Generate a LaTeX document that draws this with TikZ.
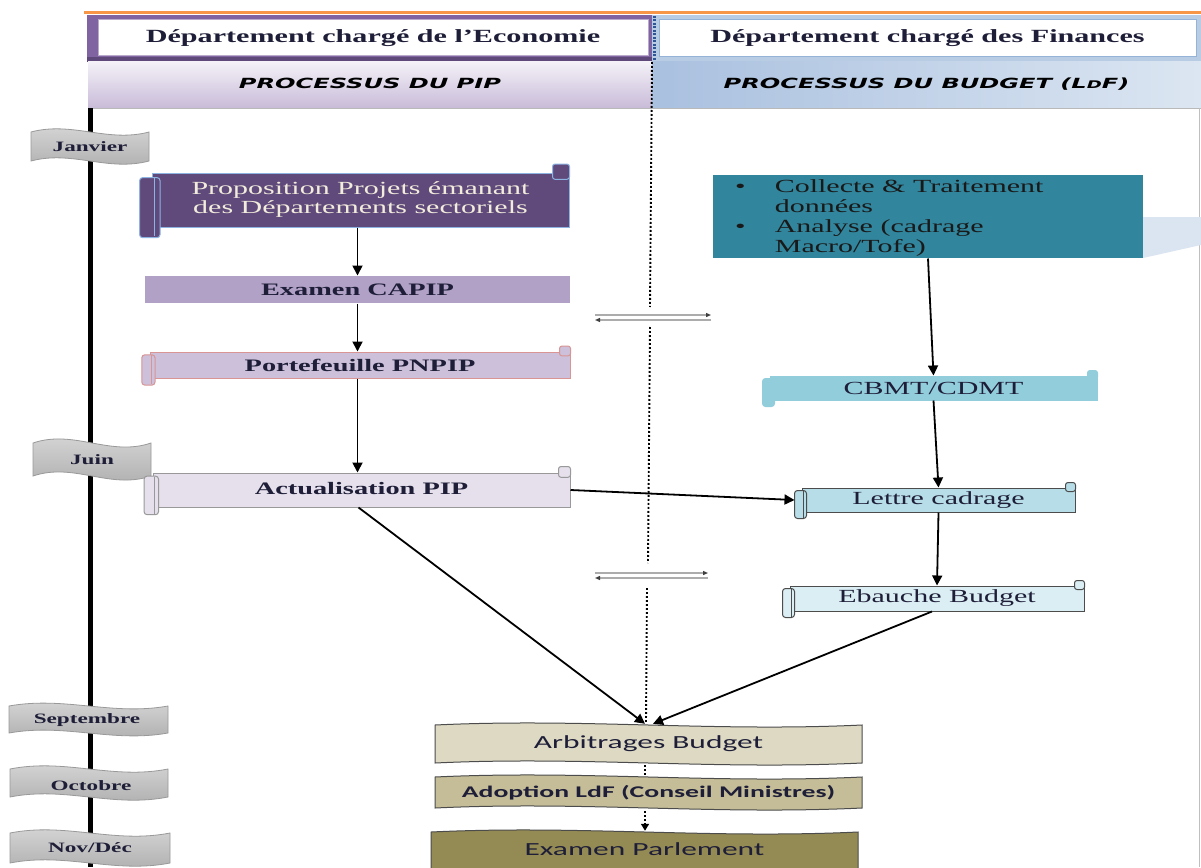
\documentclass[tikz,border=0pt]{standalone}
\usepackage{fontspec}
\setmainfont{Liberation Serif}
\newfontfamily\djsans{DejaVu Sans}
\newfontfamily\carl{Carlito}
\usepackage{graphicx}
\usetikzlibrary{arrows.meta,calc}
\definecolor{inkc}{HTML}{1E1E38}
\definecolor{orangec}{HTML}{F79646}
\definecolor{purf}{HTML}{8064A2}
\definecolor{purdk}{HTML}{5F497A}
\definecolor{lavtop}{HTML}{F4F1F8}
\definecolor{lavbot}{HTML}{C8BBD8}
\definecolor{bluef}{HTML}{B8CCE4}
\definecolor{blueb}{HTML}{95B3D7}
\definecolor{bluedk}{HTML}{2F5597}
\definecolor{subbl}{HTML}{A9C0DF}
\definecolor{subbr}{HTML}{DCE6F2}
\definecolor{pone}{HTML}{604A7B}
\definecolor{poneb}{HTML}{8DB3E2}
\definecolor{ptwo}{HTML}{B2A1C7}
\definecolor{pthree}{HTML}{CCC0DA}
\definecolor{pthreeb}{HTML}{D99594}
\definecolor{pfour}{HTML}{E5E0EC}
\definecolor{rone}{HTML}{31859C}
\definecolor{rpoly}{HTML}{DBE5F1}
\definecolor{rtwo}{HTML}{92CDDC}
\definecolor{rthree}{HTML}{B7DEE8}
\definecolor{rfour}{HTML}{DAEEF3}
\definecolor{bone}{HTML}{DDD9C3}
\definecolor{btwo}{HTML}{C4BD97}
\definecolor{bthree}{HTML}{948A54}
\definecolor{cream}{HTML}{F2ECDC}

\newcommand{\hx}[2][1.62]{\scalebox{#1}[1]{#2}}
\newcommand{\wavepath}[6]{%
  \path[#6] (#1,#2) .. controls ({#1+0.35*(#3-#1)},{#2-#5}) and ({#1+0.65*(#3-#1)},{#2+#5}) .. (#3,#2)
   -- (#3,#4) .. controls ({#1+0.65*(#3-#1)},{#4+#5}) and ({#1+0.35*(#3-#1)},{#4-#5}) .. (#1,#4) -- cycle;}
\newcommand{\scrolldeco}[4]{%
  \draw[draw=#3, fill=#2, rounded corners=3pt, line width=1pt] ($(#1.north west)+({-0.7*#4},{0.3*#4})$) rectangle ($(#1.south west)+({0.5*#4},{0.6*#4})$);
  \draw[draw=#3, line width=1pt] ($(#1.north west)+({0.15*#4},{0.35*#4})$) -- ($(#1.south west)+({0.15*#4},{0.5*#4})$);
  \draw[draw=#3, fill=#2, rounded corners=2.5pt, line width=1pt] ($(#1.north east)+({-1.0*#4},{-0.5*#4})$) rectangle ($(#1.north east)+(0,{0.4*#4})$);
}

\begin{document}
\begin{tikzpicture}[x=1pt,y=-1pt,
  body/.style={rectangle, inner sep=0pt, line width=1pt},
  bfx/.style={font=\fontsize{17.5}{20}\selectfont\bfseries, text=inkc},
  rgx/.style={font=\fontsize{18.5}{19.5}\selectfont, text=inkc},
  mon/.style={font=\fontsize{14.3}{16}\selectfont\bfseries, text=inkc, inner sep=0pt},
  calx/.style={font=\carl\fontsize{18.5}{20}\selectfont, text=inkc, inner sep=0pt},
  bann/.style={top color=gray!30, middle color=white, bottom color=gray!65, draw=gray!80, line width=0.8pt},
  arr/.style={draw=black, line width=1.8pt, -{Triangle[length=10pt,width=10pt]}},
  exch/.style={draw=gray!65, line width=1.2pt, -{Triangle[length=5pt,width=4pt,color=black!75]}},
  dotl/.style={draw=black, line width=1.9pt, dash pattern=on 1.8pt off 2.2pt}
]
\useasboundingbox (0,0) rectangle (1201,867);
\clip (0,0) rectangle (1201,867);
\fill[white] (0,0) rectangle (1201,867);

% ---------- header ----------
\fill[purf] (87,15) rectangle (652,62);
\fill[purdk] (87,57) rectangle (652,62);
\fill[bluef] (652,15) rectangle (1201,61);
\draw[draw=orangec, line width=3pt] (84,13) -- (1201,13);
\node[rectangle, fill=white, draw=purf!55, line width=1pt, minimum width=550pt, minimum height=36pt, inner sep=0pt,
      font=\fontsize{18.6}{20}\selectfont\bfseries, text=inkc] (hl) at (373,38) {\hx{Département chargé de l'Economie}};
\node[rectangle, fill=white, draw=blueb, line width=1pt, minimum width=537pt, minimum height=37pt, inner sep=0pt,
      font=\fontsize{18.6}{20}\selectfont\bfseries, text=inkc] (hr) at (927.5,38.5) {\hx{Département chargé des Finances}};
\draw[draw=bluedk, line width=3pt, dash pattern=on 2pt off 1.5pt] (654,16) -- (654,61);

\node[rectangle, top color=lavtop, bottom color=lavbot, minimum width=564pt, minimum height=46pt, inner sep=0pt,
      font=\djsans\fontsize{14}{16}\selectfont\bfseries\itshape, text=black] (sl) at (370,85) {\raisebox{4pt}{\hx[1.72]{PROCESSUS DU PIP}}};
\node[rectangle, left color=subbl, right color=subbr, minimum width=549pt, minimum height=46pt, inner sep=0pt,
      font=\djsans\fontsize{14}{16}\selectfont\bfseries\itshape, text=black] (sr) at (926.5,85) {\raisebox{4pt}{\hx[1.72]{PROCESSUS DU BUDGET (L{\fontsize{10.5}{12}\selectfont D}F)}}};
\draw[gray!55, line width=0.8pt] (88,108) -- (1201,108);

% ---------- timeline ----------
\draw[line width=5pt] (90.5,108) -- (90.5,867);
\draw[gray!50, line width=0.8pt] (1199,108) -- (1199,867);

\wavepath{31}{132}{149}{161}{11}{bann}
\node[mon] (jan) at (90,147) {\hx{Janvier}};
\wavepath{33}{443}{151}{476}{14}{bann}
\node[mon] (jun) at (92,460) {\hx{Juin}};
\wavepath{9}{706}{168}{733}{10}{bann}
\node[mon] (sep) at (87,720) {\hx{Septembre}};
\wavepath{10}{769}{168}{797}{11}{bann}
\node[mon] (oct) at (91,786) {\hx{Octobre}};
\wavepath{10}{833}{170}{863}{11}{bann}
\node[mon] (nov) at (90,848) {\hx{Nov/Déc}};

% ---------- dotted separator ----------
\draw[dotl] (652,62) -- (650,307);
\draw[dotl] (650,327) -- (648,563);
\draw[dotl] (647,588) -- (646,722);

% ---------- left column ----------
\node[body, fill=pone, draw=poneb, minimum width=417pt, minimum height=54pt,
      font=\fontsize{18.5}{19}\selectfont, text=cream] (p1) at (360.5,200)
      {\raisebox{9pt}{\hx{\begin{tabular}{@{}c@{}}Proposition Projets émanant\\des Départements sectoriels\end{tabular}}}};
\scrolldeco{p1}{pone}{poneb}{17}

\node[body, fill=ptwo, minimum width=425pt, minimum height=27pt, bfx] (p2) at (357.5,289.5) {\hx{Examen CAPIP}};

\node[body, fill=pthree, draw=pthreeb, minimum width=420pt, minimum height=26pt, bfx] (p3) at (360,365) {\hx{Portefeuille PNPIP}};
\scrolldeco{p3}{pthree}{pthreeb}{11}

\node[body, fill=pfour, draw=gray!80, minimum width=417pt, minimum height=34pt, bfx] (p4) at (361.5,490) {\raisebox{3pt}{\hx{Actualisation PIP}}};
\scrolldeco{p4}{pfour}{gray!80}{12}

% ---------- right column ----------
\fill[rpoly] (1143,217) -- (1201,217) -- (1201,245) -- (1143,258) -- cycle;
\node[body, fill=rone, minimum width=430pt, minimum height=83pt] (r1) at (928,216.5) {};
\node[anchor=west, inner sep=0pt, font=\fontsize{18.5}{20}\selectfont, text=black!90] (r1t) at (735,218)
      {\hx{\begin{tabular}{@{}l@{\hspace{18pt}}l@{}}\textbullet & Collecte \& Traitement\\ & données\\ \textbullet & Analyse (cadrage\\ & Macro/Tofe)\end{tabular}}};

\node[body, fill=rtwo, draw=rtwo, minimum width=327pt, minimum height=24pt, rgx] (r2) at (933.5,388) {\hx{CBMT/CDMT}};
\scrolldeco{r2}{rtwo}{rtwo}{10}

\node[body, fill=rthree, draw=gray!60!black, minimum width=273pt, minimum height=24pt, rgx] (r3) at (938.5,500) {\hx{Lettre cadrage}};
\scrolldeco{r3}{rthree}{gray!60!black}{10}

\node[body, fill=rfour, draw=gray!60!black, minimum width=294pt, minimum height=25pt, rgx] (r4) at (937,598.5) {\hx{Ebauche Budget}};
\scrolldeco{r4}{rfour}{gray!60!black}{10}

% ---------- bottom waves ----------
\wavepath{435}{725}{862}{763}{7}{fill=bone, draw=gray!60!black, line width=1pt}
\node[minimum width=427pt, minimum height=40pt, calx] (b1) at (648.5,744) {\raisebox{4pt}{\hx[1.7]{Arbitrages Budget}}};
\wavepath{435}{777}{862}{808}{7}{fill=btwo, draw=gray!60!black, line width=1pt}
\node[minimum width=427pt, minimum height=33pt, calx, font=\carl\fontsize{16.3}{18}\selectfont\bfseries] (b2) at (648.5,792.5) {\raisebox{3pt}{\hx[1.7]{Adoption LdF (Conseil Ministres)}}};
\wavepath{431}{832}{858}{875}{7}{fill=bthree, draw=gray!60!black, line width=1pt}
\node[minimum width=427pt, minimum height=44pt, calx] (b3) at (644.5,853) {\raisebox{8pt}{\hx[1.7]{Examen Parlement}}};

% ---------- connectors ----------
\draw[arr] (p2.north |- p1.south) -- (p2.north);
\draw[arr] (p2.south) -- (p2.south |- p3.north);
\draw[arr] (p2.south |- p3.south) -- (p2.south |- p4.north);
\draw[arr] (r1.south) -- (r2.north);
\draw[arr] (r2.south) -- (r3.north);
\draw[arr] (r3.south) -- (r4.north);
\draw[arr] (p4.east) -- ($(r3.west)+(-7,0)$);
\draw[arr] ($(p4.south)+(-3,0)$) -- ($(b1.north)+(-3.5,0)$);
\draw[arr] ($(r4.south)+(-5,0)$) -- ($(b1.north)+(4.5,0)$);
\draw[dotl, line width=1.4pt] ($(b1.south)+(-3.5,1)$) -- ($(b2.north)+(-3.5,-1)$);
\draw[draw=black, line width=1.5pt, dash pattern=on 2pt off 2pt, -{Triangle[length=7pt,width=8pt]}] ($(b2.south)+(-3.5,2)$) -- ($(b3.north)+(0.5,0)$);

\coordinate (ea1) at (595,315); \coordinate (ea2) at (711,315);
\coordinate (eb1) at (711,320); \coordinate (eb2) at (595,320);
\draw[exch] (ea1) -- (ea2);
\draw[exch] (eb1) -- (eb2);
\coordinate (ec1) at (595,573); \coordinate (ec2) at (708,573);
\coordinate (ed1) at (708,578); \coordinate (ed2) at (595,578);
\draw[exch] (ec1) -- (ec2);
\draw[exch] (ed1) -- (ed2);
\end{tikzpicture}
\end{document}
